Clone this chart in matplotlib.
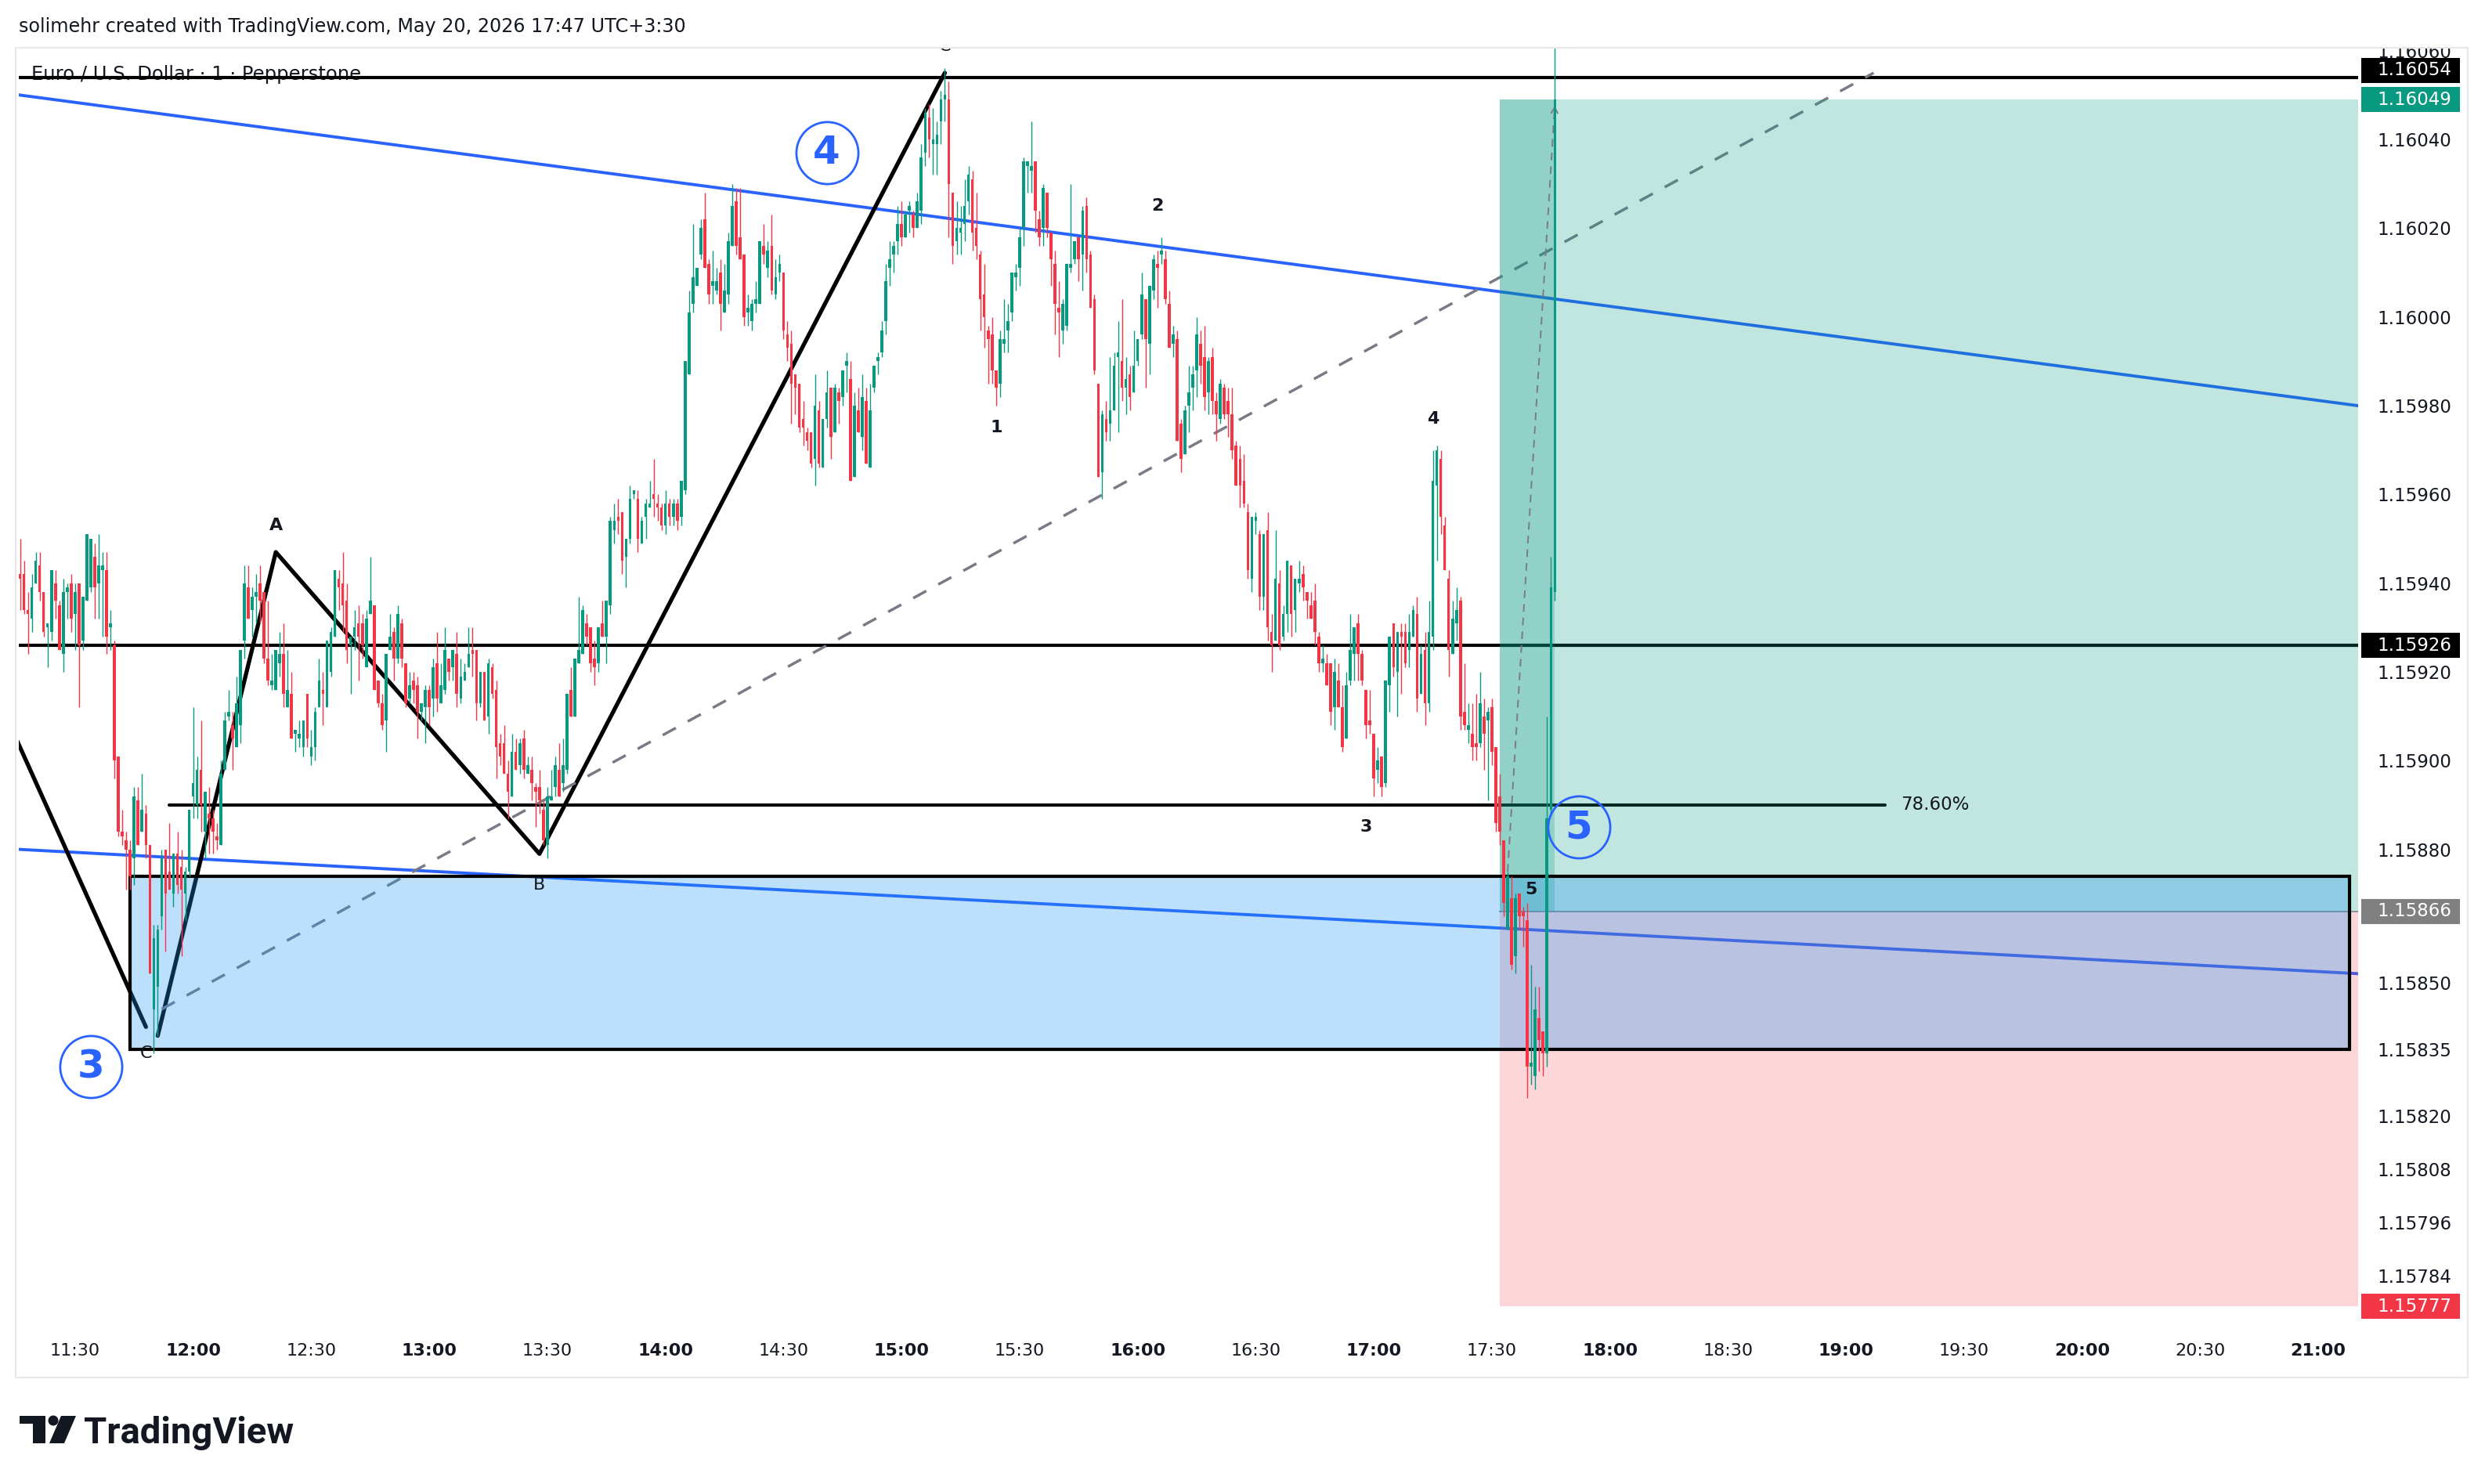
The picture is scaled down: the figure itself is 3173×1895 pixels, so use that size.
import matplotlib
matplotlib.use('Agg')

import matplotlib.pyplot as plt
import matplotlib.transforms as mtransforms
from matplotlib.patches import Rectangle, Ellipse, Polygon
import numpy as np

W, H, DPI = 3173, 1895, 100

# EUR/USD 1 minute bars, one per minute from 11:16 to 17:46
# values are in 0.00001 above 1.15000 (942 -> 1.15942)
first_bar = '11:16'
opens = [
    942, 942, 934, 932, 940, 944, 938, 930, 929, 940,
    935, 924, 938, 940, 933, 940, 927, 936, 939, 946,
    940, 943, 943, 930, 926, 901, 884, 882, 880, 878,
    891, 884, 888, 881, 844, 849, 865, 880, 875, 870,
    879, 876, 870, 875, 892, 890, 898, 884, 888, 887,
    883, 881, 898, 910, 908, 903, 908, 927, 939, 934,
    937, 940, 938, 923, 917, 916, 922, 924, 912, 915,
    906, 905, 903, 915, 901, 903, 912, 916, 912, 920,
    928, 941, 940, 936, 926, 928, 931, 931, 921, 933,
    935, 918, 913, 909, 925, 929, 923, 931, 922, 914,
    918, 917, 911, 912, 916, 914, 922, 913, 916, 923,
    921, 924, 914, 918, 921, 925, 925, 913, 920, 910,
    921, 916, 904, 904, 897, 892, 902, 899, 905, 897,
    898, 894, 894, 889, 881, 891, 894, 898, 895, 898,
    916, 910, 922, 924, 931, 930, 923, 922, 931, 928,
    935, 952, 955, 956, 946, 950, 960, 959, 949, 955,
    957, 960, 958, 957, 953, 958, 955, 958, 955, 961,
    987, 1003, 1007, 1014, 1022, 1012, 1007, 1006, 1010, 1001,
    1005, 1016, 1026, 1018, 1014, 1001, 999, 1003, 1003, 1016,
    1011, 1016, 1005, 1010, 1010, 996, 994, 987, 985, 977,
    974, 974, 968, 979, 966, 977, 984, 974, 983, 982,
    989, 986, 964, 979, 973, 981, 966, 984, 990, 992,
    999, 1011, 1014, 1017, 1021, 1018, 1024, 1023, 1020, 1024,
    1037, 1045, 1039, 1039, 1044, 1049, 1049, 1028, 1017, 1019,
    1021, 1026, 1031, 1020, 1014, 1005, 997, 996, 988, 985,
    994, 997, 1001, 1009, 1011, 1020, 1034, 1033, 1035, 1022,
    1020, 1028, 1019, 1012, 1002, 997, 998, 1011, 1013, 1018,
    1014, 1025, 1014, 1004, 985, 965, 977, 976, 979, 991,
    990, 984, 987, 983, 990, 996, 1004, 994, 1006, 1012,
    1014, 1013, 1003, 994, 995, 976, 969, 980, 984, 988,
    994, 991, 983, 991, 981, 977, 984, 981, 978, 971,
    968, 963, 956, 941, 954, 951, 937, 952, 929, 927,
    940, 928, 933, 944, 934, 940, 942, 938, 935, 936,
    928, 922, 922, 922, 912, 918, 912, 905, 918, 924,
    931, 924, 916, 909, 906, 898, 901, 895, 917, 931,
    920, 929, 929, 925, 928, 933, 915, 925, 913, 928,
    962, 968, 953, 941, 924, 931, 936, 911, 907, 906,
    904, 904, 910, 909, 912, 903, 892, 882, 862, 869,
    856, 870, 866, 864, 831, 829, 842, 839, 834, 889,
    938,
]
highs = [
    950, 945, 938, 942, 947, 947, 938, 931, 943, 943,
    936, 941, 940, 942, 940, 940, 937, 951, 950, 949,
    951, 947, 947, 934, 927, 901, 889, 884, 882, 894,
    894, 897, 890, 881, 863, 863, 880, 880, 886, 879,
    884, 880, 876, 889, 912, 901, 909, 893, 894, 889,
    886, 900, 911, 916, 911, 919, 925, 944, 944, 939,
    942, 944, 938, 936, 924, 925, 929, 931, 925, 920,
    907, 909, 909, 915, 907, 912, 923, 920, 927, 930,
    943, 943, 947, 940, 928, 934, 935, 933, 934, 946,
    935, 918, 915, 924, 933, 930, 935, 932, 922, 920,
    920, 919, 913, 917, 917, 923, 929, 922, 930, 923,
    925, 929, 923, 922, 930, 930, 925, 920, 920, 923,
    922, 918, 906, 908, 900, 906, 905, 905, 907, 901,
    901, 895, 898, 891, 894, 898, 901, 904, 905, 915,
    921, 923, 937, 935, 933, 930, 927, 930, 936, 936,
    955, 958, 959, 956, 950, 962, 961, 961, 955, 959,
    963, 968, 960, 958, 961, 959, 959, 959, 963, 990,
    1006, 1021, 1011, 1022, 1028, 1013, 1015, 1011, 1013, 1012,
    1019, 1030, 1029, 1029, 1014, 1005, 1004, 1008, 1017, 1021,
    1017, 1023, 1013, 1014, 1010, 999, 997, 987, 985, 981,
    975, 974, 987, 981, 977, 988, 984, 985, 984, 988,
    992, 990, 983, 984, 987, 984, 985, 989, 992, 999,
    1012, 1017, 1017, 1025, 1026, 1024, 1026, 1024, 1028, 1039,
    1047, 1048, 1047, 1044, 1051, 1056, 1053, 1028, 1026, 1025,
    1031, 1034, 1033, 1028, 1015, 1012, 998, 1000, 988, 997,
    1004, 1003, 1010, 1012, 1020, 1036, 1035, 1044, 1035, 1024,
    1030, 1028, 1019, 1015, 1008, 1004, 1012, 1030, 1017, 1018,
    1025, 1027, 1015, 1005, 985, 979, 981, 991, 992, 999,
    1004, 991, 989, 997, 995, 1010, 1004, 1007, 1014, 1015,
    1018, 1015, 1006, 998, 997, 977, 980, 989, 989, 1000,
    997, 998, 991, 993, 983, 986, 985, 984, 984, 972,
    971, 969, 958, 955, 956, 952, 951, 956, 933, 952,
    943, 935, 945, 944, 941, 945, 944, 938, 938, 940,
    929, 926, 924, 922, 923, 922, 917, 920, 933, 930,
    933, 925, 916, 916, 906, 903, 901, 918, 928, 931,
    929, 931, 931, 933, 935, 937, 926, 929, 936, 970,
    971, 970, 955, 943, 936, 939, 937, 922, 913, 913,
    915, 920, 914, 912, 914, 903, 897, 882, 875, 874,
    870, 870, 867, 868, 854, 849, 849, 839, 910, 946,
    1070,
]
lows = [
    934, 933, 924, 929, 940, 936, 928, 921, 927, 932,
    925, 920, 932, 929, 925, 912, 925, 936, 938, 932,
    932, 928, 924, 925, 896, 883, 881, 871, 871, 872,
    881, 884, 878, 852, 834, 838, 862, 857, 871, 867,
    870, 856, 864, 874, 887, 887, 884, 878, 879, 879,
    880, 881, 898, 909, 898, 903, 904, 923, 932, 928,
    931, 931, 922, 917, 916, 916, 919, 912, 912, 905,
    902, 903, 901, 903, 899, 900, 912, 908, 912, 919,
    928, 934, 929, 922, 915, 925, 918, 923, 921, 933,
    916, 912, 907, 902, 925, 918, 922, 921, 912, 913,
    913, 905, 909, 904, 908, 910, 911, 913, 915, 918,
    918, 912, 913, 918, 921, 919, 909, 912, 909, 906,
    914, 896, 899, 897, 887, 892, 898, 897, 896, 897,
    891, 885, 888, 881, 878, 891, 892, 892, 893, 897,
    910, 910, 922, 924, 926, 920, 917, 920, 928, 922,
    933, 949, 951, 942, 939, 949, 959, 947, 949, 950,
    957, 955, 954, 952, 951, 953, 953, 952, 953, 960,
    987, 1001, 1007, 1013, 1011, 1003, 1003, 1005, 997, 1001,
    1003, 1016, 1014, 1013, 998, 998, 997, 1001, 1003, 1012,
    1009, 1005, 1004, 1008, 995, 990, 976, 978, 974, 971,
    970, 966, 962, 966, 966, 975, 968, 974, 976, 980,
    983, 963, 964, 974, 970, 967, 966, 983, 987, 991,
    996, 1007, 1010, 1014, 1016, 1018, 1019, 1018, 1020, 1021,
    1034, 1036, 1032, 1032, 1039, 1044, 1018, 1012, 1014, 1014,
    1017, 1023, 1015, 1013, 997, 993, 985, 985, 980, 982,
    992, 992, 999, 1006, 1007, 1016, 1028, 1028, 1019, 1016,
    1016, 1018, 1007, 996, 991, 994, 997, 1010, 1012, 1008,
    1006, 1010, 1002, 987, 964, 959, 972, 972, 979, 974,
    981, 978, 979, 983, 989, 995, 984, 987, 1004, 1002,
    1012, 1003, 993, 991, 972, 965, 969, 974, 979, 982,
    985, 979, 978, 978, 972, 976, 977, 973, 968, 962,
    957, 957, 941, 938, 951, 934, 934, 927, 920, 927,
    925, 927, 929, 928, 929, 938, 936, 932, 932, 926,
    920, 920, 917, 908, 907, 912, 902, 905, 917, 918,
    918, 917, 905, 906, 892, 895, 892, 894, 911, 919,
    910, 915, 921, 921, 928, 911, 915, 908, 911, 925,
    945, 951, 943, 919, 924, 927, 907, 907, 904, 900,
    900, 903, 898, 891, 899, 884, 881, 865, 862, 853,
    852, 862, 858, 824, 827, 826, 830, 829, 831, 888,
    936,
]
closes = [
    941, 934, 933, 939, 945, 938, 929, 931, 943, 936,
    925, 938, 939, 932, 938, 926, 937, 951, 950, 939,
    944, 944, 928, 931, 900, 884, 883, 880, 874, 892,
    881, 889, 881, 852, 860, 862, 878, 870, 871, 879,
    872, 871, 875, 889, 895, 898, 890, 893, 887, 884,
    882, 897, 909, 911, 905, 913, 925, 940, 932, 937,
    938, 936, 923, 918, 918, 925, 924, 915, 916, 905,
    907, 906, 909, 905, 903, 911, 918, 915, 927, 929,
    943, 939, 935, 925, 928, 930, 928, 926, 932, 936,
    916, 913, 908, 924, 928, 923, 933, 923, 913, 917,
    916, 911, 913, 916, 912, 921, 914, 917, 925, 920,
    925, 915, 919, 920, 924, 924, 913, 920, 909, 922,
    915, 903, 901, 897, 893, 902, 898, 904, 898, 899,
    895, 893, 891, 882, 892, 892, 899, 892, 899, 915,
    910, 923, 925, 934, 928, 922, 921, 930, 928, 936,
    954, 954, 954, 945, 950, 959, 961, 950, 954, 958,
    958, 959, 957, 953, 958, 955, 958, 954, 963, 990,
    1001, 1009, 1011, 1020, 1011, 1005, 1008, 1008, 1003, 1006,
    1017, 1025, 1016, 1013, 1000, 1002, 1003, 1004, 1017, 1014,
    1015, 1006, 1009, 1012, 997, 993, 985, 984, 975, 975,
    972, 967, 980, 967, 977, 983, 973, 984, 981, 988,
    990, 963, 980, 974, 982, 967, 979, 989, 991, 997,
    1008, 1013, 1016, 1021, 1018, 1023, 1025, 1020, 1026, 1036,
    1046, 1040, 1040, 1041, 1049, 1050, 1030, 1016, 1020, 1020,
    1025, 1032, 1019, 1016, 1004, 1000, 995, 988, 984, 995,
    995, 999, 1010, 1010, 1018, 1035, 1035, 1034, 1024, 1018,
    1029, 1020, 1013, 1003, 1001, 1003, 1012, 1012, 1017, 1013,
    1024, 1013, 1002, 988, 964, 978, 974, 979, 989, 992,
    984, 986, 982, 989, 995, 1005, 995, 1007, 1013, 1011,
    1015, 1004, 993, 996, 972, 968, 979, 983, 987, 996,
    989, 982, 990, 981, 978, 985, 978, 978, 970, 962,
    962, 958, 943, 955, 955, 937, 951, 930, 926, 941,
    926, 933, 945, 933, 941, 941, 939, 936, 932, 929,
    922, 923, 917, 911, 920, 912, 903, 917, 925, 930,
    924, 918, 908, 908, 896, 900, 894, 918, 928, 921,
    929, 928, 922, 929, 934, 914, 924, 913, 929, 963,
    970, 955, 943, 925, 932, 934, 910, 908, 908, 903,
    903, 913, 906, 911, 902, 886, 884, 868, 874, 854,
    869, 865, 865, 831, 832, 844, 837, 834, 887, 939,
    1049,
]

price_ticks = [1.16060, 1.16040, 1.16020, 1.16000, 1.15980, 1.15960, 1.15940,
               1.15920, 1.15900, 1.15880, 1.15850, 1.15835, 1.15820, 1.15808,
               1.15796, 1.15784]
time_ticks = ['11:30', '12:00', '12:30', '13:00', '13:30', '14:00', '14:30',
              '15:00', '15:30', '16:00', '16:30', '17:00', '17:30', '18:00',
              '18:30', '19:00', '19:30', '20:00', '20:30', '21:00']

# price scale badges: price, colour, shift up in px
badge_prices = [1.16054, 1.16049, 1.15926, 1.15866, 1.15777]
badge_colors = ['#000000', '#089981', '#000000', '#808080', '#f23645']
badge_shift = [9, 0, 0, 0, 0]

# drawings on the chart
level_lines = [1.16054, 1.15926]
fib_span = ['11:54', '19:10']
fib_price = 1.15890
fib_text = ('19:14', '78.60%')
trend_upper = [('11:16', 1.16050), ('21:10', 1.15980)]
trend_lower = [('11:16', 1.15880), ('21:10', 1.15852)]
zigzag_prev = [('11:14', 1.15907), ('11:48', 1.15840)]
zigzag_abc = [('11:51', 1.15838), ('12:21', 1.15947), ('13:28', 1.15879), ('15:11', 1.16055)]
fib_diag = [('11:52', 1.15844), ('19:07', 1.16055)]
zone_span = ['11:44', '21:08']
zone_prices = [1.15835, 1.15874]
pos_start, pos_bar_end = '17:32', '17:46'
pos_entry, pos_target, pos_stop = 1.15866, 1.16049, 1.15777
proj_path = [('17:34', 1.15875), ('17:46', 1.16048)]
wave_circles = [('3', '11:34', 1.15831), ('4', '14:41', 1.16037), ('5', '17:52', 1.15885)]
sub_waves = [('1', '15:24', 1.15975), ('2', '16:05', 1.16025), ('3', '16:58', 1.15885),
             ('4', '17:15', 1.15977), ('5', '17:40', 1.15871)]
abc_labels = [('A', '12:21', 1.15953, 'bold'), ('B', '13:28', 1.15872, 'normal'),
              ('C', '11:48', 1.15834, 'normal'), ('C', '15:11', 1.16061, 'normal')]

UP, DOWN, BLUE, TXT = '#089981', '#f23645', '#2962ff', '#131722'
h0, mm0 = first_bar.split(':')
t0 = int(h0) * 60 + int(mm0)


def t(s):
    h, m = s.split(':')
    return int(h) * 60 + int(m) - t0


def price(v):
    return 1.15 + np.asarray(v, dtype=float) / 1e5


def fx(x):
    return x / W


def fy(y):
    return 1 - y / H


fig = plt.figure(figsize=(W / DPI, H / DPI), dpi=DPI)
fig.patch.set_facecolor('white')
ax = fig.add_axes([fx(24), fy(1700), (3011 - 24) / W, (1700 - 61) / H])
ax.set_xlim(-0.3, 594.1)
ax.set_ylim(1.157714, 1.1606066)
for s in ax.spines.values():
    s.set_visible(False)
ax.set_facecolor('white')

# candles
o, hi, lo, c = price(opens), price(highs), price(lows), price(closes)
x = np.arange(len(o))
col = np.where(c >= o, UP, DOWN)
ax.vlines(x, lo, hi, colors=col, lw=1.0, zorder=5)
body = np.maximum(np.abs(c - o), 3e-6)
ax.bar(x, body, bottom=np.minimum(o, c), width=0.72, color=col, lw=0, zorder=5)

# horizontal levels
for p in level_lines:
    ax.axhline(p, color='black', lw=3.0, zorder=2)
ax.plot([t(fib_span[0]), t(fib_span[1])], [fib_price, fib_price], color='black',
        lw=2.9, solid_capstyle='round', zorder=2)
ax.text(t(fib_text[0]), fib_price, fib_text[1], fontsize=16.5, color=TXT,
        va='center', ha='left', zorder=6)

# trend lines
for line in (trend_upper, trend_lower):
    ax.plot([t(a) for a, _ in line], [p for _, p in line], color=BLUE, lw=2.8, zorder=2)

# zigzags
for zz in (zigzag_prev, zigzag_abc):
    ax.plot([t(a) for a, _ in zz], [p for _, p in zz], color='black', lw=3.8,
            solid_joinstyle='round', solid_capstyle='round', zorder=2)
ax.plot([t(a) for a, _ in fib_diag], [p for _, p in fib_diag], color='#787b86',
        lw=2.5, dashes=(5.5, 5), zorder=2)

# long position
x0 = t(pos_start)
ax.add_patch(Rectangle((x0, pos_entry), 700, pos_target - pos_entry,
                       fc=(8 / 255, 153 / 255, 129 / 255, 0.25), ec='none', zorder=3))
ax.add_patch(Rectangle((x0, pos_stop), 700, pos_entry - pos_stop,
                       fc=(242 / 255, 54 / 255, 69 / 255, 0.2), ec='none', zorder=3))
ax.add_patch(Rectangle((x0, pos_entry), t(pos_bar_end) - x0, pos_target - pos_entry,
                       fc=(8 / 255, 153 / 255, 129 / 255, 0.25), ec='none', zorder=3))
ax.plot([x0, 700], [pos_entry, pos_entry], color='#787b86', lw=1.4, alpha=0.8, zorder=3)

# demand zone
ax.add_patch(Rectangle((t(zone_span[0]), zone_prices[0]), t(zone_span[1]) - t(zone_span[0]),
                       zone_prices[1] - zone_prices[0],
                       fc=(33 / 255, 150 / 255, 243 / 255, 0.3), ec='black', lw=3.0, zorder=3.5))

# projection arrow
px_ = [t(a) for a, _ in proj_path]
py_ = [p for _, p in proj_path]
ax.plot(px_, py_, color='#787b86', lw=1.4, dashes=(5, 4), zorder=4)
ax.annotate('', xy=(px_[1], py_[1]), xytext=(px_[1] - 0.05, py_[1] - 0.00001),
            arrowprops=dict(arrowstyle='->,head_length=0.5,head_width=0.3',
                            color='#787b86', lw=1.4), zorder=4)

# wave labels
for lab, ts, p in wave_circles:
    ax.plot(t(ts), p, 'o', ms=57, mfc='none', mec=BLUE, mew=2.0, zorder=6)
    ax.text(t(ts), p, lab, fontsize=36, fontweight='bold', color=BLUE,
            ha='center', va='center', zorder=6)
for lab, ts, p in sub_waves:
    ax.text(t(ts), p, lab, fontsize=16, fontweight='bold', color=TXT,
            ha='center', va='center', zorder=6)
for lab, ts, p, wt in abc_labels:
    ax.text(t(ts), p, lab, fontsize=16, fontweight=wt, color=TXT,
            ha='center', va='center', zorder=6, clip_on=True)

ax.text(fx(40), fy(95), 'Euro / U.S. Dollar · 1 · Pepperstone', transform=fig.transFigure,
        fontsize=17.5, color=TXT, va='center', ha='left', zorder=1)

# axes ticks
ax.set_yticks(price_ticks)
ax.set_yticklabels([f'{p:.5f}' for p in price_ticks])
ax.tick_params(axis='y', length=0, pad=17.3, labelsize=16.5, labelcolor=TXT,
               left=False, labelleft=False, right=True, labelright=True)
ax.set_xticks([t(s) for s in time_ticks])
ax.set_xticklabels(time_ticks)
ax.tick_params(axis='x', length=0, pad=11, labelsize=16, labelcolor=TXT)
for lbl, s in zip(ax.get_xticklabels(), time_ticks):
    if s.endswith(':00'):
        lbl.set_fontweight('bold')

# price badges
blend = mtransforms.blended_transform_factory(ax.transAxes, ax.transData)
y0, y1 = ax.get_ylim()
per_px = (y1 - y0) / (1700 - 61)
for p, colr, sh in zip(badge_prices, badge_colors, badge_shift):
    yc = p + sh * per_px
    ax.add_patch(Rectangle((1.00134, yc - 16 * per_px), 0.04218, 32 * per_px,
                           transform=blend, fc=colr, ec='none', clip_on=False, zorder=7))
    ax.text(1.00803, yc, f'{p:.5f}', transform=blend, fontsize=16.5, color='white',
            va='center', ha='left', clip_on=False, zorder=8)

# mask above chart, frame, header
fig.add_artist(Rectangle((fx(3011), fy(61)), 162 / W, 61 / H, transform=fig.transFigure,
                         fc='white', ec='none', zorder=5))
fig.add_artist(Rectangle((fx(20), fy(1759)), (3151 - 20) / W, (1759 - 61) / H,
                         transform=fig.transFigure, fc='none', ec='#e8e8e8', lw=1.5, zorder=6))
fig.text(fx(24), fy(34), 'solimehr created with TradingView.com, May 20, 2026 17:47 UTC+3:30',
         fontsize=17.2, color=TXT, va='center', ha='left')

# TradingView logo
logo = [
    Rectangle((fx(25), fy(1818)), 33 / W, 10 / H),
    Rectangle((fx(42), fy(1843)), 16 / W, 35 / H),
    Ellipse((fx(68), fy(1814)), 13 / W, 13 / H),
    Polygon([(fx(78), fy(1808)), (fx(97), fy(1808)), (fx(82), fy(1843)), (fx(63), fy(1843))]),
]
for pch in logo:
    pch.set_transform(fig.transFigure)
    pch.set_facecolor('#131722')
    pch.set_edgecolor('none')
    fig.add_artist(pch)
fig.text(fx(107), fy(1843), 'TradingView', fontsize=34, fontweight='bold', family='Roboto',
         color='#131722', va='baseline', ha='left')

fig.savefig('out.png', dpi=DPI, facecolor='white')
